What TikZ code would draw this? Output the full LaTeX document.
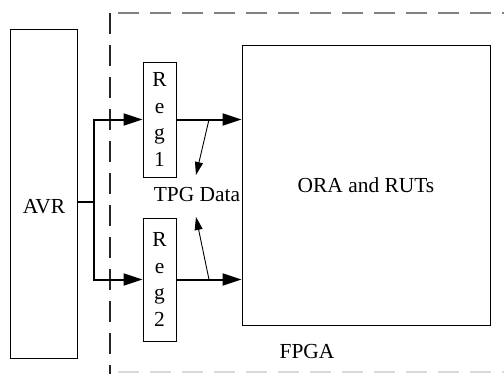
\documentclass[tikz,border=0pt]{standalone}
\usepackage{fontspec}
\setmainfont{Liberation Serif}
\usepackage{tikz}
\usetikzlibrary{positioning,calc,arrows.meta}

\tikzset{
    blk/.style={draw, line width=1bp, inner sep=0pt},
    regbox/.style={blk, minimum width=33bp, align=center},
    bus/.style={line width=2bp},
    busarrow/.style={bus, -{Triangle[length=19bp,width=12bp]}},
    tap/.style={line width=0.9bp, -{Triangle[length=13bp,width=8bp]}},
    border/.style={line width=1.5bp, dash pattern=on 21bp off 11bp}
}

\begin{document}
\begin{tikzpicture}[x=1bp, y=-1bp, font=\rmfamily\fontsize{21.5}{27}\selectfont]
                    \useasboundingbox (0,0) rectangle (504,374);
                    \draw[border, gray] (118,13) -- (504,13);
                    \draw[border, black!85] (110,13) -- (110,374);
                    \draw[border, black!15] (118,372) -- (504,372);

                    \node[blk, minimum width=66bp, minimum height=329bp,
                          label={[name=avrtxt, yshift=-13.5bp]center:AVR}]
                          (avr) at (44,193.5) {};
                    \node[regbox, minimum height=115bp] (reg1) at (159.5,119.5) {R\\e\\g\\1};
                    \node[regbox, minimum height=123bp] (reg2) at (159.5,279.5) {R\\e\\g\\2};
                    \node[blk, minimum width=248bp, minimum height=280bp]
                          (ora) at (366,185) {ORA and RUTs};
                    \node (tpg) at (197,195) {TPG Data};
                    \node (fpga) at (307,352) {FPGA};

                    \coordinate (fork) at (94,202);
                    \coordinate (tap1) at ($(reg1.east)!0.5!(ora.west |- reg1.east)$);
                    \coordinate (tap2) at ($(reg2.east)!0.5!(ora.west |- reg2.east)$);
                    \coordinate (tpgtop) at (196,175);
                    \coordinate (tpgbot) at (196,217);

                    \draw[bus] (avr.east |- fork) -- (fork);
                    \draw[busarrow] (fork) |- (reg1.west);
                    \draw[busarrow] (fork) |- (reg2.west);
                    \draw[busarrow] (reg1.east) -- (ora.west |- reg1.east);
                    \draw[busarrow] (reg2.east) -- (ora.west |- reg2.east);
                    \draw[tap] (tap1) -- (tpgtop);
                    \draw[tap] (tap2) -- (tpgbot);
\end{tikzpicture}
\end{document}
